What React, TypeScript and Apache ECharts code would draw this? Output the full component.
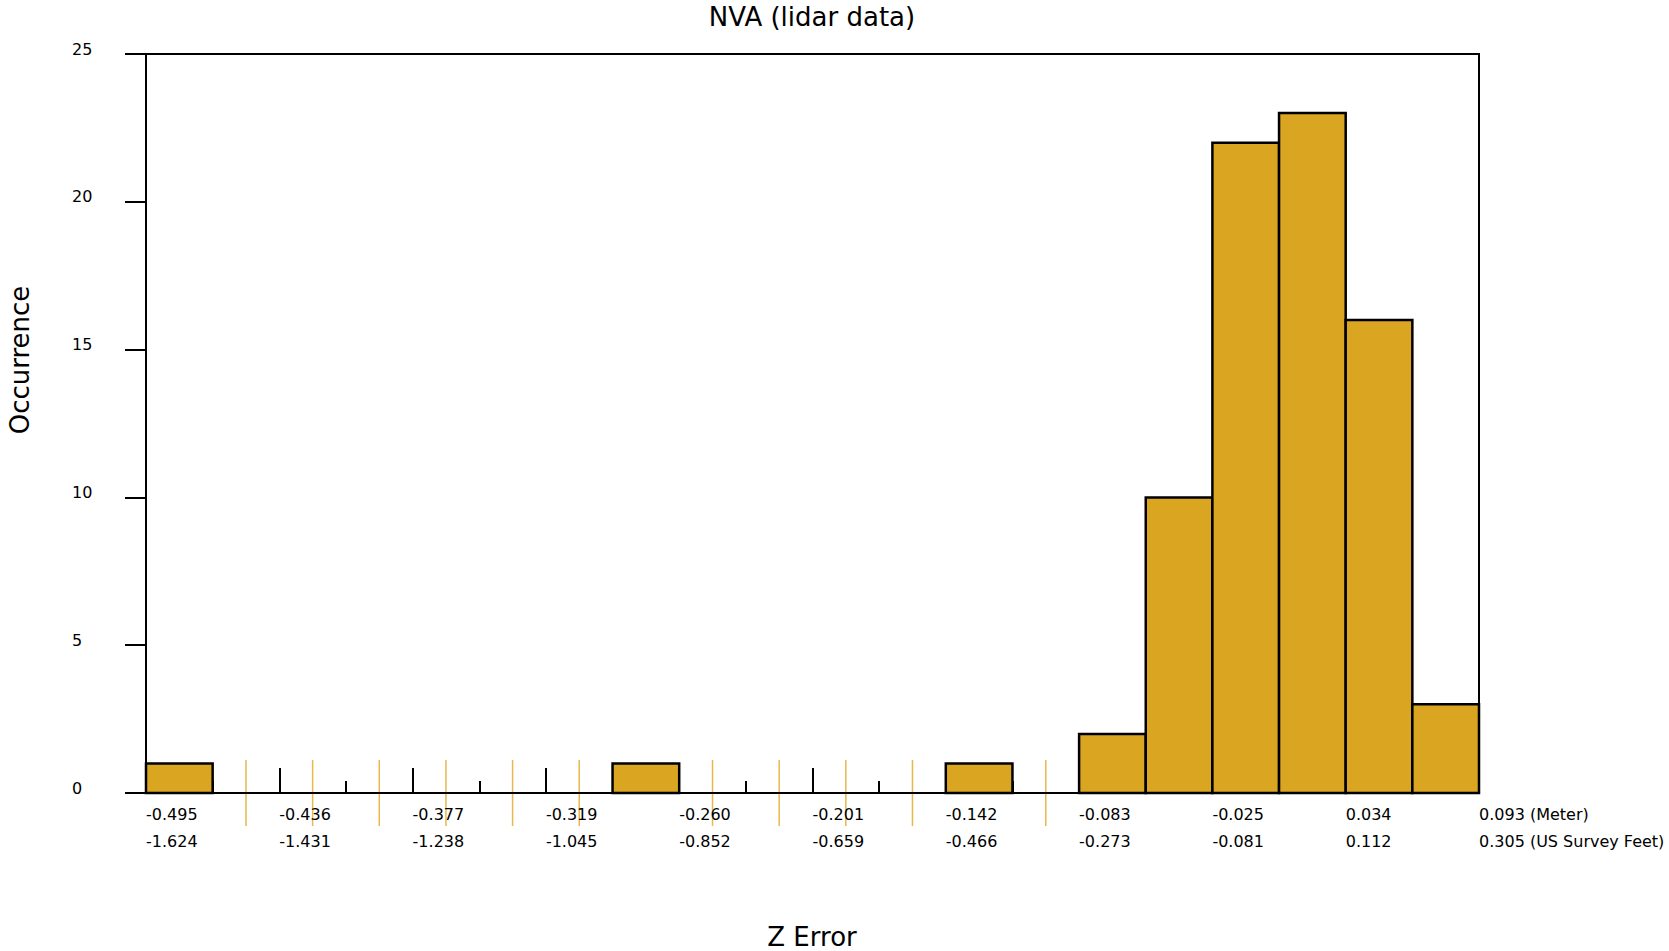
import React, { useEffect, useRef } from "react";
import * as echarts from "echarts";

const counts = [1, 0, 0, 0, 0, 0, 0, 1, 0, 0, 0, 0, 1, 0, 2, 10, 22, 23, 16, 3];
const meterTicks = ["-0.495", "-0.436", "-0.377", "-0.319", "-0.260", "-0.201", "-0.142", "-0.083", "-0.025", "0.034", "0.093"];
const feetTicks = ["-1.624", "-1.431", "-1.238", "-1.045", "-0.852", "-0.659", "-0.466", "-0.273", "-0.081", "0.112", "0.305"];
const meterUnit = "(Meter)";
const feetUnit = "(US Survey Feet)";
const yTicks = [0, 5, 10, 15, 20, 25];

const FONT = "DejaVu Sans";
const BAR = "#DAA520";

export default function App() {
  const ref = useRef<HTMLDivElement>(null);
  useEffect(() => {
    document.body.style.margin = "0";
    const chart = echarts.init(ref.current!, undefined, { renderer: "svg" });
    const binData = counts.map((c, i) => [i, c]);
    const emptyData = counts.map((c, i) => [i, c]).filter((d) => d[1] === 0);
    const last = meterTicks.length - 1;
    chart.setOption({
      animation: false,
      grid: { left: 146, right: 190, top: 54, bottom: 158, show: true, borderColor: "#000", borderWidth: 2, backgroundColor: "transparent" },
      graphic: [
        { type: "text", x: 812, y: 17, style: { text: "NVA (lidar data)", fontFamily: FONT, fontSize: 26, fill: "#000", align: "center", verticalAlign: "middle" } },
        { type: "text", x: 20, y: 360, rotation: Math.PI / 2, style: { text: "Occurrence", fontFamily: FONT, fontSize: 26, fill: "#000", align: "center", verticalAlign: "middle" } },
        { type: "text", x: 812, y: 937, style: { text: "Z Error", fontFamily: FONT, fontSize: 26, fill: "#000", align: "center", verticalAlign: "middle" } },
      ],
      xAxis: {
        type: "value",
        min: 0,
        max: 20,
        interval: 2,
        axisLine: { show: true, onZero: false, lineStyle: { color: "#000", width: 2 } },
        axisTick: { show: true, inside: true, length: 25, lineStyle: { color: "#000", width: 2 } },
        minorTick: { show: true, splitNumber: 2, length: 12, lineStyle: { color: "#000", width: 2 } },
        splitLine: { show: false },
        axisLabel: {
          show: true,
          margin: 8,
          align: "left",
          verticalAlign: "top",
          fontFamily: FONT,
          fontSize: 16,
          lineHeight: 27,
          color: "#000",
          showMinLabel: true,
          showMaxLabel: true,
          formatter: (v: number) => {
            const i = Math.round(v / 2);
            const m = meterTicks[i] ?? "";
            const f = feetTicks[i] ?? "";
            return i === last ? `${m} ${meterUnit}\n${f} ${feetUnit}` : `${m}\n${f}`;
          },
        },
      },
      yAxis: {
        type: "value",
        min: 0,
        max: 25,
        interval: 5,
        axisLine: { show: true, lineStyle: { color: "#000", width: 2 } },
        axisTick: { show: true, inside: false, length: 21, lineStyle: { color: "#000", width: 2 } },
        splitLine: { show: false },
        axisLabel: {
          show: true,
          margin: 74,
          align: "left",
          verticalAlign: "bottom",
          lineHeight: 10,
          fontFamily: FONT,
          fontSize: 16,
          color: "#000",
          formatter: (v: number) => (yTicks.includes(v) ? String(v) : ""),
        },
      },
      series: [
        {
          type: "custom",
          z: -1,
          data: emptyData,
          renderItem: (params: any, api: any) => {
            const i = api.value(0);
            const p = api.coord([i + 0.5, 0]);
            return {
              type: "line",
              shape: { x1: p[0], y1: p[1] - 33, x2: p[0], y2: p[1] + 33 },
              style: { stroke: "#E8B84C", lineWidth: 1.5 },
            };
          },
        },
        {
          type: "custom",
          z: 3,
          data: binData,
          renderItem: (params: any, api: any) => {
            const i = api.value(0);
            const c = api.value(1);
            if (!c) return null;
            const p0 = api.coord([i, c]);
            const p1 = api.coord([i + 1, 0]);
            return {
              type: "rect",
              shape: { x: p0[0], y: p0[1], width: p1[0] - p0[0], height: p1[1] - p0[1] },
              style: { fill: BAR, stroke: "#000", lineWidth: 2.5 },
            };
          },
        },
      ],
    });
    return () => chart.dispose();
  }, []);
  return <div ref={ref} style={{ width: 1669, height: 951, overflow: "hidden" }} />;
}
